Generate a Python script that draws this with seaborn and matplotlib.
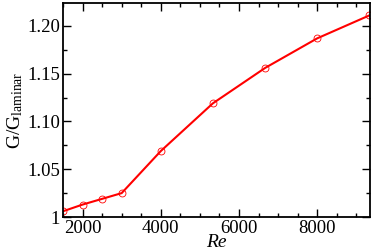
import numpy as np
import pandas as pd
import matplotlib
matplotlib.use("Agg")
import matplotlib.pyplot as plt
import seaborn as sns
from matplotlib.ticker import MultipleLocator, FixedFormatter, FixedLocator

# data
re_values = [1500, 2000, 2500, 3000, 4000, 5333, 6667, 8000, 9333]
g_ratio = [1.006, 1.013, 1.019, 1.025, 1.069, 1.119, 1.156, 1.187, 1.211]
ytick_vals = [1.00, 1.05, 1.10, 1.15, 1.20]
ytick_labels = ["1", "1.05", "1.10", "1.15", "1.20"]
xtick_vals = [2000, 4000, 6000, 8000]

df = pd.DataFrame({"Re": re_values, "G": g_ratio})

sns.set_style("ticks")
plt.rcParams['font.family'] = ['Liberation Serif', 'DejaVu Serif']
plt.rcParams['mathtext.fontset'] = 'custom'
plt.rcParams['mathtext.rm'] = 'Liberation Serif'
plt.rcParams['mathtext.it'] = 'Liberation Serif:italic'
plt.rcParams['text.color'] = 'black'
plt.rcParams['axes.labelcolor'] = 'black'

fig = plt.figure(figsize=(3.74, 2.52), dpi=100)
ax = fig.add_axes([63 / 374, 1 - 217 / 252, (370 - 63) / 374, (217 - 3) / 252])

sns.lineplot(data=df, x="Re", y="G", ax=ax, color="red", linewidth=1.5,
             marker="o", markersize=5, markerfacecolor="none",
             markeredgecolor="red", markeredgewidth=0.6)

ax.set_xlim(1500, 9350)
ax.set_ylim(1.0, 1.224)
ax.xaxis.set_major_locator(FixedLocator(xtick_vals))
ax.xaxis.set_minor_locator(MultipleLocator(500))
ax.yaxis.set_major_locator(FixedLocator(ytick_vals))
ax.yaxis.set_major_formatter(FixedFormatter(ytick_labels))
ax.yaxis.set_minor_locator(MultipleLocator(0.025))

ax.tick_params(which="both", direction="in", top=True, right=True,
               labelsize=13.5, colors="black", width=1)
ax.tick_params(which="major", length=6, pad=2)
ax.tick_params(which="minor", length=3)
for s in ax.spines.values():
    s.set_linewidth(1.3)
    s.set_color("black")

ax.set_xlabel("Re", fontsize=14, style="italic", labelpad=-2, color="black")
ax.set_ylabel("G/G$_{\\rm laminar}$", fontsize=14, labelpad=2, color="black")

fig.savefig("out.png", dpi=100)
